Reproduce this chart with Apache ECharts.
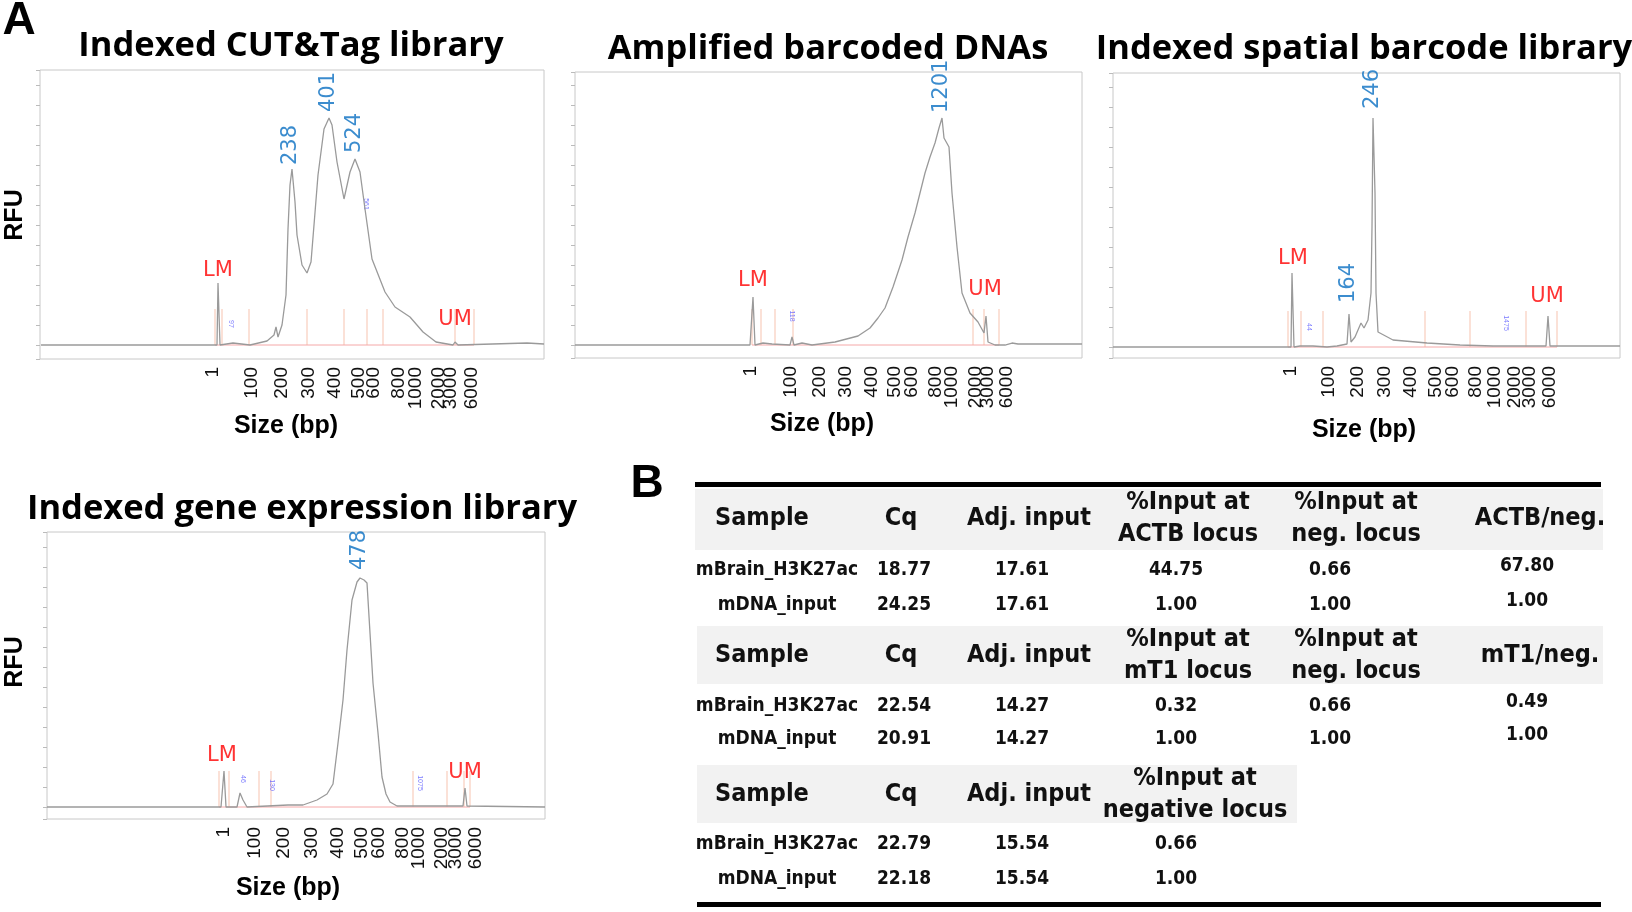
<!DOCTYPE html>
<html>
<head>
<meta charset="utf-8">
<script src="https://cdn.jsdelivr.net/npm/echarts@6/dist/echarts.min.js"></script>
<style>html,body{margin:0;padding:0;background:#fff}#echarts{width:1632px;height:912px}</style>
</head>
<body>
<div id="echarts"></div>
<script>
var myChart = echarts.init(document.getElementById('echarts'));

// ladder sizes printed under every electropherogram
var ladder = ['1', '100', '200', '300', '400', '500', '600', '800', '1000', '2000', '3000', '6000'];

// panel 1: Indexed CUT&Tag library  [migration, RFU]
var cutTagTrace = [[41,0],[213,0],[217,0],[218,62],[220,0],[233,2],[250,0],[267,4],[274,10],[276,18],[278,8],[282,20],[286,50],[288,116],[290,160],[292,176],[295,143],[297,110],[302,80],[307,72],[311,83],[314,120],[318,170],[324,216],[329,227],[332,220],[337,183],[344,146],[350,173],[355,186],[360,173],[365,136],[372,86],[385,53],[395,38],[410,28],[423,13],[436,3],[453,0],[455,3],[458,0],[527,2],[544,1]];
var cutTagLadder = [213,252,282,309,335,359,374,399,416,439,451,472];
var cutTagMarkers = [215,222,249,307,344,367,383,455,474];
var cutTagPeaks = [[291,180,'238'],[329,233,'401'],[355,192,'524']];
var cutTagSmall = [[366,141,'561'],[231,21,'97']];
var cutTagLmUm = [[218,74,'LM'],[455,25,'UM']];

// panel 2: Amplified barcoded DNAs
var ampTrace = [[575,0],[750,0],[752,0],[753,48],[755,0],[763,2],[772,1],[790,0],[792,8],[794,0],[802,2],[812,0],[835,3],[858,9],[870,17],[878,27],[885,37],[893,58],[902,85],[908,108],[915,132],[920,152],[925,172],[930,188],[935,202],[939,217],[942,227],[944,207],[949,198],[952,152],[957,98],[962,52],[970,32],[978,23],[984,12],[986,29],[988,3],[995,0],[1005,0],[1012,2],[1018,1],[1082,1]];
var ampLadder = [751,791,820,846,872,895,912,936,952,976,988,1007];
var ampMarkers = [752,761,775,793,973,984,999];
var ampPeaks = [[942,232,'1201']];
var ampSmall = [[792,29,'118']];
var ampLmUm = [[753,64,'LM'],[985,55,'UM']];

// panel 3: Indexed spatial barcode library
var spatialTrace = [[1113,0],[1288,0],[1291,0],[1292,74],[1294,0],[1300,1],[1313,1],[1327,0],[1337,1],[1347,3],[1349,33],[1351,5],[1355,10],[1361,24],[1364,19],[1368,27],[1371,54],[1372,120],[1373,229],[1375,154],[1376,54],[1378,15],[1393,7],[1427,4],[1460,2],[1493,1],[1546,1],[1548,31],[1550,1],[1620,1]];
var spatialLadder = [1291,1329,1358,1385,1411,1436,1453,1476,1495,1515,1530,1550];
var spatialMarkers = [1288,1301,1323,1425,1470,1526,1557];
var spatialPeaks = [[1373,238,'246'],[1349,44,'164']];
var spatialSmall = [[1309,20,'44'],[1506,24,'1475']];
var spatialLmUm = [[1293,88,'LM'],[1547,50,'UM']];

// panel 4: Indexed gene expression library
var geneTrace = [[47,0],[221,0],[223,0],[224,36],[226,0],[237,0],[240,14],[243,7],[245,9],[247,0],[288,2],[303,2],[317,7],[327,13],[333,23],[338,64],[343,107],[347,157],[352,207],[357,225],[360,229],[364,227],[367,224],[370,174],[373,124],[378,74],[382,30],[386,13],[390,5],[397,1],[413,1],[463,1],[465,19],[467,1],[545,0]];
var geneLadder = [224,255,284,312,338,362,379,403,419,442,456,476];
var geneMarkers = [219,229,259,271,413,447,464,470];
var genePeaks = [[360,237,'478']];
var geneSmall = [[243,28,'46'],[272,22,'130'],[420,24,'1075']];
var geneLmUm = [[222,51,'LM'],[465,34,'UM']];

// table B
var headA = ['Sample', 'Cq', 'Adj. input', '%Input at\nACTB locus', '%Input at\nneg. locus', 'ACTB/neg.'];
var rowsA = [['mBrain_H3K27ac', '18.77', '17.61', '44.75', '0.66', '67.80'],
             ['mDNA_input', '24.25', '17.61', '1.00', '1.00', '1.00']];
var headB = ['Sample', 'Cq', 'Adj. input', '%Input at\nmT1 locus', '%Input at\nneg. locus', 'mT1/neg.'];
var rowsB = [['mBrain_H3K27ac', '22.54', '14.27', '0.32', '0.66', '0.49'],
             ['mDNA_input', '20.91', '14.27', '1.00', '1.00', '1.00']];
var headC = ['Sample', 'Cq', 'Adj. input', '%Input at\nnegative locus'];
var rowsC = [['mBrain_H3K27ac', '22.79', '15.54', '0.66'],
             ['mDNA_input', '22.18', '15.54', '1.00']];

var panels = [
    {trace: cutTagTrace, ladder: cutTagLadder, markers: cutTagMarkers, peaks: cutTagPeaks, small: cutTagSmall, lmum: cutTagLmUm,
     l: 40, t: 70, r: 544, b: 359, ymin: -14, ymax: 275},
    {trace: ampTrace, ladder: ampLadder, markers: ampMarkers, peaks: ampPeaks, small: ampSmall, lmum: ampLmUm,
     l: 575, t: 72, r: 1082, b: 358, ymin: -13, ymax: 273},
    {trace: spatialTrace, ladder: spatialLadder, markers: spatialMarkers, peaks: spatialPeaks, small: spatialSmall, lmum: spatialLmUm,
     l: 1113, t: 73, r: 1620, b: 358, ymin: -11, ymax: 274},
    {trace: geneTrace, ladder: geneLadder, markers: geneMarkers, peaks: genePeaks, small: geneSmall, lmum: geneLmUm,
     l: 47, t: 532, r: 545, b: 819, ymin: -12, ymax: 275}
];

var grids = [], xAxes = [], yAxes = [], series = [];
panels.forEach(function (p, i) {
    grids.push({left: p.l, top: p.t, width: p.r - p.l, height: p.b - p.t, show: true, borderColor: '#c8c8c8', borderWidth: 1});
    xAxes.push({
        type: 'value', gridIndex: i, min: p.l, max: p.r,
        axisLine: {show: false}, splitLine: {show: false},
        axisTick: {show: false},
        axisLabel: {
            customValues: p.ladder, rotate: 90, margin: 8, fontSize: 19, color: '#111',
            fontFamily: 'Liberation Sans',
            formatter: function (v) { return ladder[p.ladder.indexOf(v)]; }
        }
    });
    yAxes.push({
        type: 'value', gridIndex: i, min: p.ymin, max: p.ymax, splitNumber: 16,
        axisLine: {show: false}, splitLine: {show: false}, axisLabel: {show: false},
        axisTick: {show: true, length: 4, lineStyle: {color: '#bbb'}}
    });
    var lo = p.markers[0], hi = p.markers[p.markers.length - 1];
    series.push({
        type: 'line', xAxisIndex: i, yAxisIndex: i, symbol: 'none', silent: true,
        lineStyle: {color: '#f5a8a8', width: 1}, data: [[lo, 0], [hi, 0]], z: 1
    });
    series.push({
        type: 'bar', xAxisIndex: i, yAxisIndex: i, barWidth: 1, silent: true,
        itemStyle: {color: '#f8c4b0'}, data: p.markers.map(function (m) { return [m, 36]; }), z: 1
    });
    series.push({
        type: 'line', xAxisIndex: i, yAxisIndex: i, symbol: 'none', silent: true,
        lineStyle: {color: '#9a9a9a', width: 1.3}, data: p.trace, z: 3
    });
    series.push({
        type: 'scatter', xAxisIndex: i, yAxisIndex: i, symbolSize: 0, silent: true,
        data: p.peaks,
        label: {show: true, position: [0, 0], rotate: 90, align: 'left', verticalAlign: 'middle',
            fontSize: 21, color: '#0a6fc2', fontFamily: 'DejaVu Sans',
            formatter: function (d) { return d.data[2]; }}
    });
    series.push({
        type: 'scatter', xAxisIndex: i, yAxisIndex: i, symbolSize: 0, silent: true,
        data: p.small,
        label: {show: true, position: [0, 0], rotate: -90, align: 'center', verticalAlign: 'middle',
            fontSize: 7, color: '#5a5aff', formatter: function (d) { return d.data[2]; }}
    });
    series.push({
        type: 'scatter', xAxisIndex: i, yAxisIndex: i, symbolSize: 0, silent: true,
        data: p.lmum,
        label: {show: true, position: [0, 0], align: 'center', verticalAlign: 'middle',
            fontSize: 21, color: '#ff0000', fontFamily: 'DejaVu Sans',
            formatter: function (d) { return d.data[2]; }}
    });
});

var g = [];
function txt(x, y, s, size, opts) {
    opts = opts || {};
    g.push({type: 'text', x: x, y: y, rotation: opts.rot || 0, z: 10, style: {
        text: s, fontSize: size, fontWeight: opts.w || 'bold', fill: '#000',
        fontFamily: opts.f || 'Open Sans', textAlign: opts.a || 'center', textVerticalAlign: 'middle',
        lineHeight: opts.lh || size
    }});
}
txt(19, 21, 'A', 46, {f: 'Liberation Sans'});
txt(647, 484, 'B', 46, {f: 'Liberation Sans'});
txt(291, 46, 'Indexed CUT&Tag library', 34.5);
txt(828, 49, 'Amplified barcoded DNAs', 34.5);
txt(1364, 49, 'Indexed spatial barcode library', 34.5);
txt(302, 509, 'Indexed gene expression library', 34.5);
[[286, 426], [822, 424], [1364, 430], [288, 888]].forEach(function (c) {
    txt(c[0], c[1], 'Size (bp)', 25, {f: 'Liberation Sans'});
});
txt(15, 215, 'RFU', 25, {f: 'Liberation Sans', rot: Math.PI / 2});
txt(15, 662, 'RFU', 25, {f: 'Liberation Sans', rot: Math.PI / 2});

// table
var narrow = "'Liberation Sans Narrow', 'DejaVu Sans Condensed', 'Roboto'";
var headX = [715, 901, 1029, 1188, 1356, 1540];
var cellX = [777, 904, 1022, 1176, 1330, 1527];
function block(head, rows, rect, hy, ry) {
    g.push({type: 'rect', shape: {x: rect[0], y: rect[1], width: rect[2] - rect[0], height: rect[3] - rect[1]},
        style: {fill: '#f2f2f2'}, z: 5});
    head.forEach(function (h, j) {
        var x = headX[j];
        if (j === 3 && head.length === 4) x = 1195;
        g.push({type: 'text', x: x, y: hy, z: 10, style: {text: h, fontSize: 25, fontFamily: narrow, fontWeight: 'bold',
            fill: '#111', textAlign: j === 0 ? 'left' : 'center', textVerticalAlign: 'middle', lineHeight: 32}});
    });
    rows.forEach(function (r, k) {
        r.forEach(function (c, j) {
            g.push({type: 'text', x: cellX[j], y: ry[k] - (j === 5 ? 4 : 0), z: 10, style: {text: c, fontSize: 19,
                fontFamily: narrow, fontWeight: 'bold', fill: '#111', textAlign: 'center', textVerticalAlign: 'middle'}});
        });
    });
}
g.push({type: 'rect', shape: {x: 695, y: 482, width: 906, height: 5}, style: {fill: '#000'}, z: 6});
g.push({type: 'rect', shape: {x: 697, y: 902, width: 904, height: 5}, style: {fill: '#000'}, z: 6});
block(headA, rowsA, [695, 489, 1603, 550], 518, [570, 605]);
block(headB, rowsB, [697, 626, 1603, 684], 655, [706, 739]);
block(headC, rowsC, [697, 765, 1297, 823], 794, [844, 879]);

var option = {
    animation: false,
    grid: grids,
    xAxis: xAxes,
    yAxis: yAxes,
    series: series,
    graphic: g
};
myChart.setOption(option);
</script>
</body>
</html>
